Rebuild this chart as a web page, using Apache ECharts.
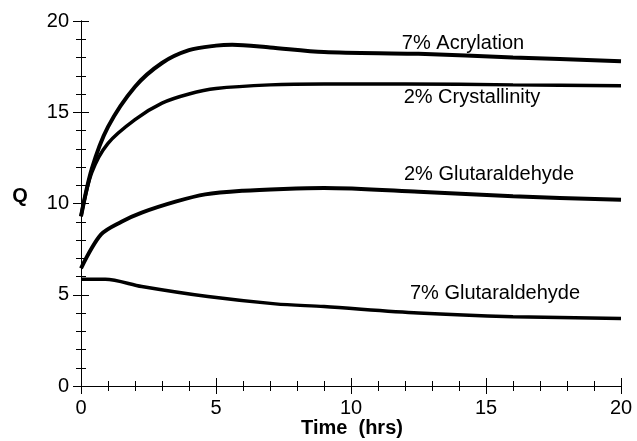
<!DOCTYPE html>
<html>
<head>
<meta charset="utf-8">
<title>Q vs Time</title>
<script src="https://cdn.jsdelivr.net/npm/echarts@6/dist/echarts.min.js"></script>
<style>
	html, body { margin: 0; padding: 0; background: #fff; }
	#chart1 { width: 637px; height: 441px; }
</style>
</head>
<body>
<div id="chart1"></div>
<script>
//数据 [time(hrs), Q]
var acrylation7 = [[0, 9.3], [0.4, 11.9], [1, 14.2], [2, 16.4], [3, 17.7], [4, 18.4], [5, 18.65], [5.6, 18.7], [7, 18.55], [9, 18.3], [12.5, 18.2], [16, 18.0], [20, 17.8]];
var crystallinity2 = [[0, 9.3], [0.4, 11.7], [1, 13.3], [2, 14.6], [3, 15.5], [4, 16.0], [5, 16.3], [7, 16.5], [9, 16.55], [12, 16.55], [16, 16.5], [20, 16.45]];
var glutaraldehyde2 = [[0, 6.45], [0.74, 8.3], [1.5, 9.0], [2.25, 9.5], [3.5, 10.1], [4.6, 10.5], [6, 10.7], [7.5, 10.8], [9, 10.85], [12.5, 10.65], [16, 10.4], [20, 10.2]];
var glutaraldehyde7 = [[0, 5.85], [0.9, 5.85], [2.25, 5.45], [4.7, 4.9], [7.2, 4.5], [9, 4.35], [12.5, 4.0], [16, 3.8], [20, 3.7]];
var seriesNames = ['7% Acrylation', '2% Crystallinity', '2% Glutaraldehyde', '7% Glutaraldehyde'];

(function() {
	var font = '"Liberation Sans", Arial, Helvetica, sans-serif';

	//公用坐标轴样式(刻度朝内)
	function axis(show) {
		return {
			type: 'value',
			min: 0,
			max: 20,
			interval: 5,
			axisLine: { show: true, lineStyle: { color: '#000', width: 1 } },
			axisTick: { show: true, inside: true, length: 8, lineStyle: { color: '#000' } },
			minorTick: { show: true, splitNumber: 5, length: 5, lineStyle: { color: '#000' } },
			splitLine: { show: false },
			axisLabel: { show: show, color: '#000', fontSize: 20, fontFamily: font, margin: 12 }
		};
	}

	function line(name, data, width) {
		return {
			name: name,
			type: 'line',
			data: data,
			smooth: 0.3,
			showSymbol: false,
			lineStyle: { color: '#000', width: width },
			xAxisIndex: 0,
			yAxisIndex: 0
		};
	}

	var xBottom = axis(true);
	xBottom.position = 'bottom';
	var xTop = axis(false);
	xTop.position = 'top';
	var yLeft = axis(true);
	yLeft.position = 'left';
	var yRight = axis(false);
	yRight.position = 'right';

	function label(text, x, y) {
		return {
			type: 'text',
			x: x,
			y: y,
			style: { text: text, fill: '#000', font: '20px ' + font, textAlign: 'center', textVerticalAlign: 'middle' }
		};
	}

	var option = {
		animation: false,
		grid: { left: 81, top: 21, right: 16, bottom: 55 },
		xAxis: [xBottom, xTop],
		yAxis: [yLeft, yRight],
		series: [
			line(seriesNames[0], acrylation7, 4),
			line(seriesNames[1], crystallinity2, 3.5),
			line(seriesNames[2], glutaraldehyde2, 4),
			line(seriesNames[3], glutaraldehyde7, 3.5)
		],
		graphic: [
			label(seriesNames[0], 463, 43),
			label(seriesNames[1], 472, 97),
			label(seriesNames[2], 489, 174),
			label(seriesNames[3], 495, 293),
			{
				type: 'text', x: 352, y: 428,
				style: { text: 'Time  (hrs)', fill: '#000', font: 'bold 20px ' + font, textAlign: 'center', textVerticalAlign: 'middle' }
			},
			{
				type: 'text', x: 20, y: 196,
				style: { text: 'Q', fill: '#000', font: 'bold 20px ' + font, textAlign: 'center', textVerticalAlign: 'middle' }
			}
		]
	};

	var myChart = echarts.init(document.getElementById('chart1'));
	myChart.setOption(option);
})();
</script>
</body>
</html>
